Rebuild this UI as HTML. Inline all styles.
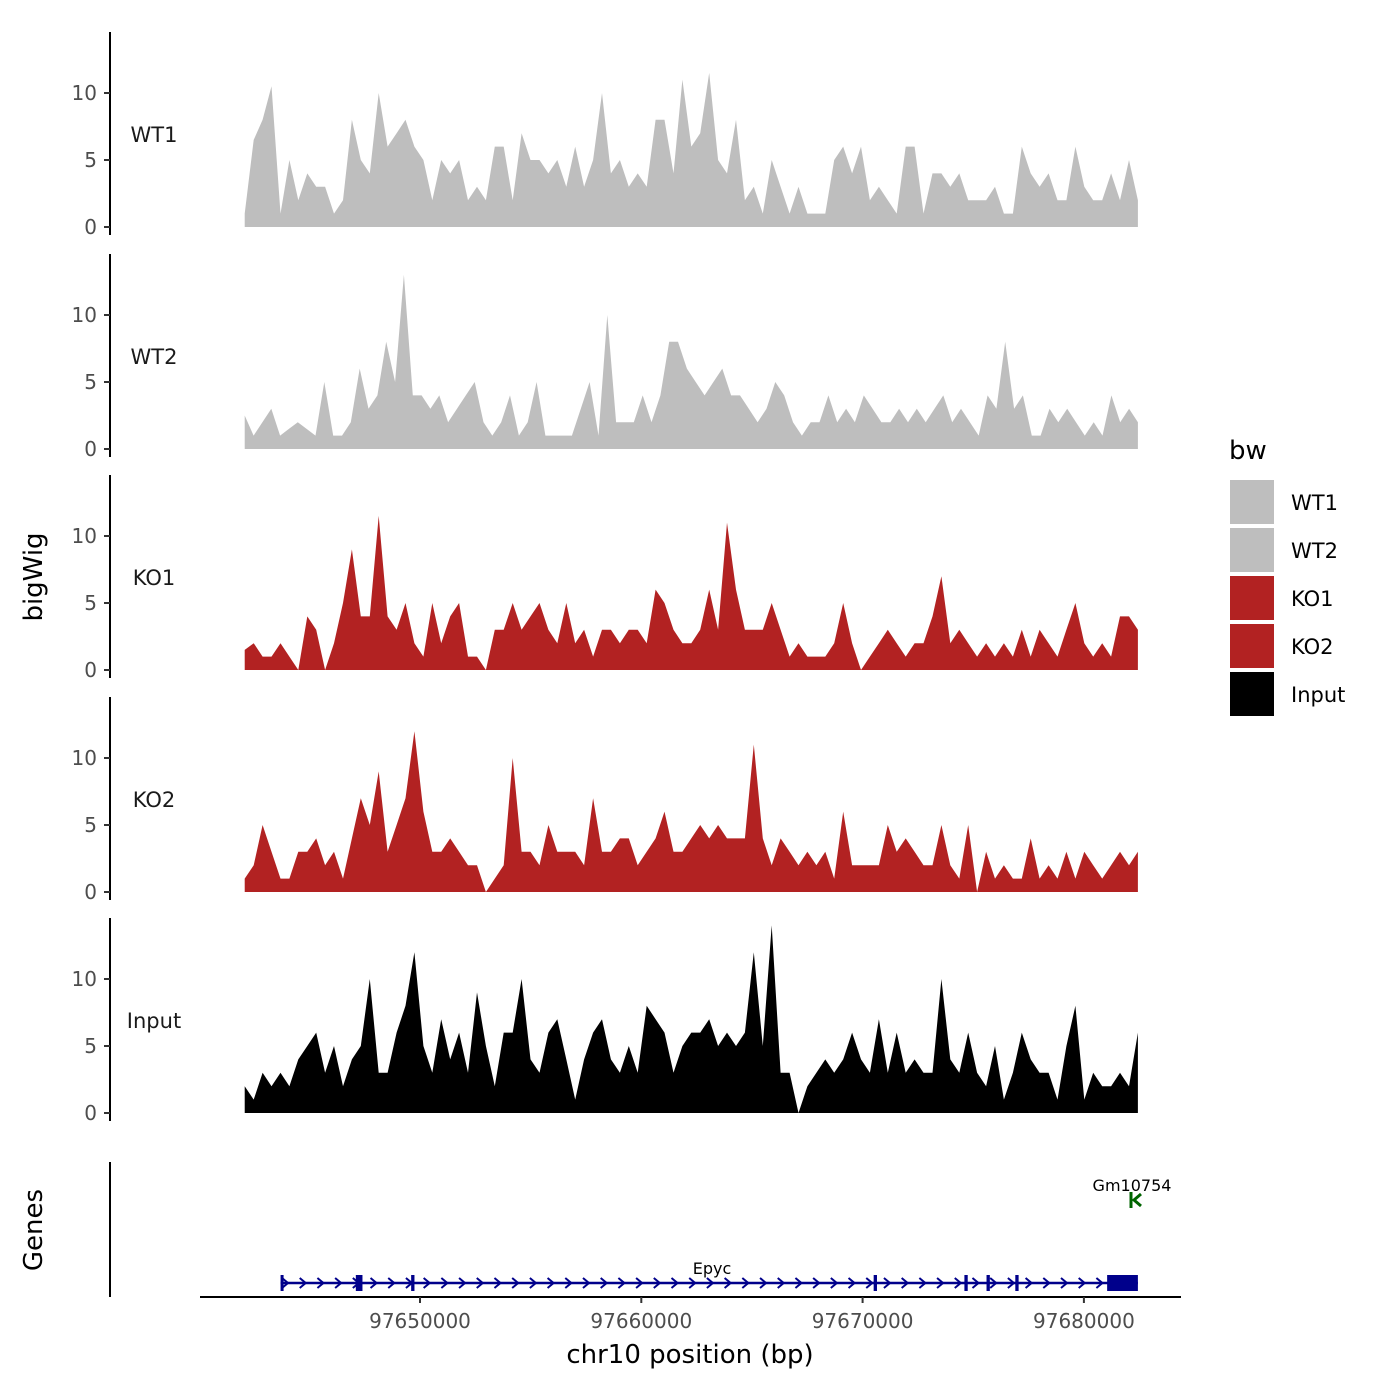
<!DOCTYPE html>
<html><head><meta charset="utf-8"><style>
html,body{margin:0;padding:0;background:#fff;}
svg{display:block;font-family:"DejaVu Sans","Liberation Sans",sans-serif;}
</style></head><body>
<svg id="chart" width="1400" height="1400" viewBox="0 0 1400 1400">
<g id="tracks"></g>
<g id="genes"></g>
<g id="xaxis"></g>
<text x="42" y="577" transform="rotate(-90 42 577)" text-anchor="middle" font-size="26" fill="#000">bigWig</text>
<text x="42" y="1230" transform="rotate(-90 42 1230)" text-anchor="middle" font-size="26" fill="#000">Genes</text>
<text x="690" y="1363" text-anchor="middle" font-size="26" fill="#000">chr10 position (bp)</text>
<g id="legend">
<text x="1229" y="459" font-size="26" fill="#000">bw</text>
</g>
</svg>
<script>
const trackNames = ["WT1","WT2","KO1","KO2","Input"];
const trackColors = ["#bebebe","#bebebe","#b22222","#b22222","#000000"];
const startBp = 97642080;
const endBp = 97682440;
const xTicks = [97650000,97660000,97670000,97680000];
const yTicks = [0,5,10];
const wt1 = [1,6.5,8,10.5,1,5,2,4,3,3,1,2,8,5,4,10,6,7,8,6,5,2,5,4,5,2,3,2,6,6,2,7,5,5,4,5,3,6,3,5,10,4,5,3,4,3,8,8,4,11,6,7,11.5,5,4,8,2,3,1,5,3,1,3,1,1,1,5,6,4,6,2,3,2,1,6,6,1,4,4,3,4,2,2,2,3,1,1,6,4,3,4,2,2,6,3,2,2,4,2,5,2];
const wt2 = [2.5,1,2,3,1,1.5,2,1.5,1,5,1,1,2,6,3,4,8,5,13,4,4,3,4,2,3,4,5,2,1,2,4,1,2,5,1,1,1,1,3,5,1,10,2,2,2,4,2,4,8,8,6,5,4,5,6,4,4,3,2,3,5,4,2,1,2,2,4,2,3,2,4,3,2,2,3,2,3,2,3,4,2,3,2,1,4,3,8,3,4,1,1,3,2,3,2,1,2,1,4,2,3,2];
const ko1 = [1.5,2,1,1,2,1,0,4,3,0,2,5,9,4,4,11.5,4,3,5,2,1,5,2,4,5,1,1,0,3,3,5,3,4,5,3,2,5,2,3,1,3,3,2,3,3,2,6,5,3,2,2,3,6,3,11,6,3,3,3,5,3,1,2,1,1,1,2,5,2,0,1,2,3,2,1,2,2,4,7,2,3,2,1,2,1,2,1,3,1,3,2,1,3,5,2,1,2,1,4,4,3];
const ko2 = [1,2,5,3,1,1,3,3,4,2,3,1,4,7,5,9,3,5,7,12,6,3,3,4,3,2,2,0,1,2,10,3,3,2,5,3,3,3,2,7,3,3,4,4,2,3,4,6,3,3,4,5,4,5,4,4,4,11,4,2,4,3,2,3,2,3,1,6,2,2,2,2,5,3,4,3,2,2,5,2,1,5,0,3,1,2,1,1,4,1,2,1,3,1,3,2,1,2,3,2,3];
const inputV = [2,1,3,2,3,2,4,5,6,3,5,2,4,5,10,3,3,6,8,12,5,3,7,4,6,3,9,5,2,6,6,10,4,3,6,7,4,1,4,6,7,4,3,5,3,8,7,6,3,5,6,6,7,5,6,5,6,12,5,14,3,3,0,2,3,4,3,4,6,4,3,7,3,6,3,4,3,3,10,4,3,6,3,2,5,1,3,6,4,3,3,1,5,8,1,3,2,2,3,2,6];
const trackData = [wt1,wt2,ko1,ko2,inputV];
const geneExons = [[97643700,97643750],[97647100,97647400],[97649600,97649750],[97670500,97670650],[97674600,97674750],[97675600,97675750],[97676900,97677050],[97681050,97682440]];
const geneStart = 97643700, geneEnd = 97682440;

const NS="http://www.w3.org/2000/svg";
function mk(tag,attrs,parent){const e=document.createElementNS(NS,tag);for(const k in attrs)e.setAttribute(k,attrs[k]);parent.appendChild(e);return e;}
function xScale(bp){return 420+(bp-97650000)*0.02213;}
const zeros=[227,449,670,892,1113];
function yScale(v,t){return zeros[t]-v*13.4;}

const tracksG=document.getElementById('tracks');
trackData.forEach((vals,t)=>{
  const g=mk('g',{},tracksG);
  
  
  const n=vals.length;
  let d='M'+xScale(startBp)+','+yScale(0,t);
  vals.forEach((v,i)=>{const bp=startBp+i*(endBp-startBp)/(n-1);d+=' L'+xScale(bp).toFixed(1)+','+yScale(v,t).toFixed(1);});
  d+=' L'+xScale(endBp)+','+yScale(0,t)+' Z';
  const p=mk('path',{d:d,fill:trackColors[t],stroke:'none'},g);
  
  
  const top=zeros[t]-195;
  const ax=mk('line',{x1:110,x2:110,y1:top,y2:zeros[t]+8,stroke:'#000','stroke-width':2},g);
  
  
  yTicks.forEach(tv=>{
    const y=yScale(tv,t);
    mk('line',{x1:104,x2:110,y1:y,y2:y,stroke:'#333','stroke-width':2},g);
    const tx=mk('text',{x:97,y:y+7,'text-anchor':'end','font-size':20,fill:'#4d4d4d'},g);
    tx.textContent=tv;
    
    
  });
  const lb=mk('text',{x:154,y:zeros[t]-85,'text-anchor':'middle','font-size':21,fill:'#1a1a1a'},g);
  lb.textContent=trackNames[t];
  
  
});

const gg=document.getElementById('genes');
mk('line',{x1:110,x2:110,y1:1162,y2:1297,stroke:'#000','stroke-width':2},gg);
const gy=1283;
mk('line',{x1:xScale(geneStart),x2:xScale(geneEnd),y1:gy,y2:gy,stroke:'#00008b','stroke-width':2.5},gg);
for(let bp=geneStart+200;bp<geneEnd-800;bp+=800){
  const x=xScale(bp);
  const a=mk('path',{d:`M${x-3},${gy-5} L${x+3},${gy} L${x-3},${gy+5}`,fill:'none',stroke:'#00008b','stroke-width':2},gg);
  
  
}
geneExons.forEach(ex=>{
  const x1=xScale(ex[0]),x2=xScale(ex[1]);
  const r=mk('rect',{x:x1,y:gy-8,width:Math.max(3,x2-x1),height:16,fill:'#00008b'},gg);
  
  
});
const epyc=mk('text',{x:712,y:1274,'text-anchor':'middle','font-size':16,fill:'#000'},gg);
epyc.textContent='Epyc';


const gm=mk('text',{x:1132,y:1191,'text-anchor':'middle','font-size':16,fill:'#000'},gg);
gm.textContent='Gm10754';


const gmMark=mk('path',{d:'M1131,1192 v16 M1141,1194 l-7,6 l7,6',stroke:'#006400','stroke-width':3,fill:'none'},gg);



const xa=document.getElementById('xaxis');
mk('line',{x1:200,x2:1181,y1:1297,y2:1297,stroke:'#000','stroke-width':2},xa);
xTicks.forEach(bp=>{
  const x=xScale(bp);
  mk('line',{x1:x,x2:x,y1:1297,y2:1303,stroke:'#333','stroke-width':2},xa);
  const t=mk('text',{x:x,y:1328,'text-anchor':'middle','font-size':20,fill:'#4d4d4d'},xa);
  t.textContent=bp;
  
  
});

const lg=document.getElementById('legend');
const legendColors=["#bebebe","#bebebe","#b22222","#b22222","#000000"];
trackNames.forEach((nm,i)=>{
  const y=480+i*48;
  const r=mk('rect',{x:1230,y:y,width:44,height:44,fill:legendColors[i]},lg);
  
  
  const t=mk('text',{x:1291,y:y+30,'font-size':21,fill:'#000'},lg);
  t.textContent=nm;
  
  
});
</script>
</body></html>
